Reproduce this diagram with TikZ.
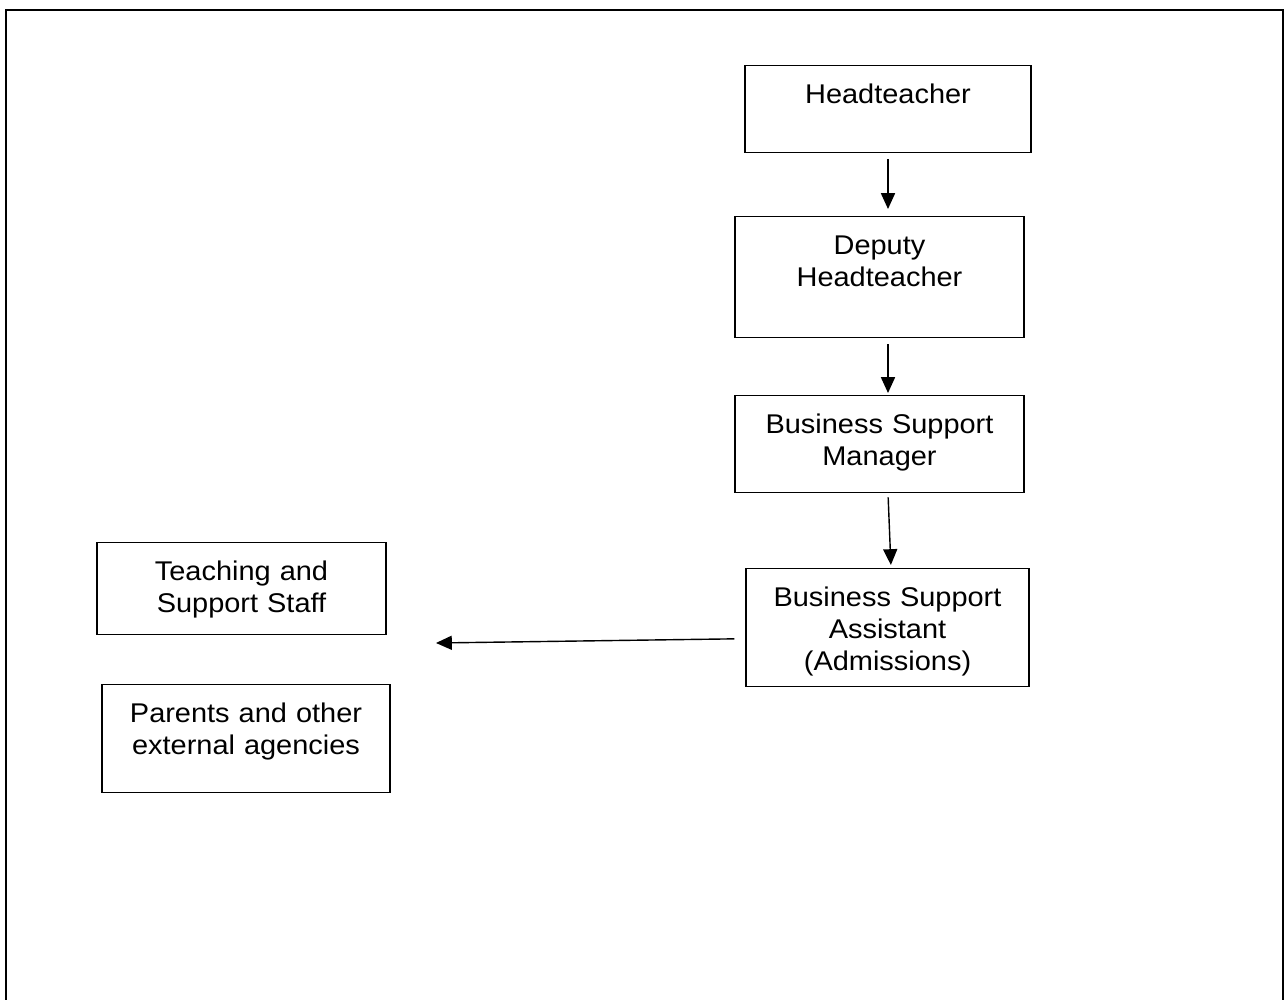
\documentclass[tikz,border=0pt]{standalone}
\usepackage{fontspec}
\setmainfont{Liberation Sans}[FakeStretch=1.07]
\usepackage{tikz}
\usetikzlibrary{arrows.meta}

\tikzset{
    rolebox/.style={draw, line width=0.8pt, inner sep=0pt, anchor=north, align=center,
        text height=0.76cm, font=\fontsize{15.4pt}{18.2pt}\selectfont},
    link/.style={line width=0.8pt, -{Triangle[length=9pt,width=8pt]}}
}

\begin{document}
\begin{tikzpicture}[x=0.02cm, y=-0.02cm]
                \useasboundingbox (0,0) rectangle (1284,1000);
                \draw[line width=1.1pt] (6,1000) -- (6,10) -- (1283,10) -- (1283,1000);

                \node[rolebox, text width=5.72cm, text depth=0.98cm] (head) at (888,65) {Headteacher};
                \node[rolebox, text width=5.78cm, text depth=1.66cm] (deputy) at (879.5,216) {Deputy\\Headteacher};
                \node[rolebox, text width=5.78cm, text depth=1.18cm] (manager) at (879.5,395) {Business Support\\Manager};
                \node[rolebox, text width=5.66cm, text depth=1.60cm] (assistant) at (887.5,568) {Business Support\\Assistant\\(Admissions)};
                \node[rolebox, text width=5.78cm, text depth=1.08cm] (staff) at (241.5,542) {Teaching and\\Support Staff};
                \node[rolebox, text width=5.76cm, text depth=1.40cm] (parents) at (246,684) {Parents and other\\external agencies};

                \coordinate (gap) at (436,643);

                \draw[link, shorten <=0.12cm, shorten >=0.14cm] (head.south) -- (head.south |- deputy.north);
                \draw[link, shorten <=0.12cm, shorten >=0.04cm] (head.south |- deputy.south) -- (head.south |- manager.north);
                \draw[link, shorten <=0.08cm, shorten >=0.06cm] ([xshift=0.17cm]manager.south) -- ([xshift=0.07cm]assistant.north);
                \draw[link, shorten <=0.22cm] ([yshift=-0.22cm]assistant.west) -- (gap);
\end{tikzpicture}
\end{document}
